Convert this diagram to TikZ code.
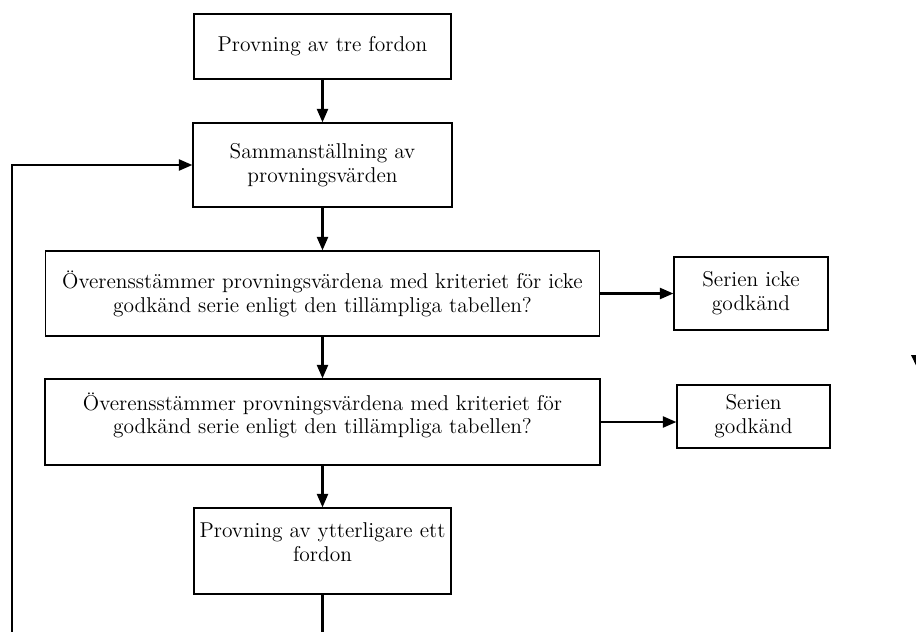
\documentclass[tikz,border=0pt]{standalone}
\usetikzlibrary{shapes.geometric, arrows.meta}
\usepackage{xcolor}

\begin{document}
\begin{tikzpicture}
    [
        node distance=2.57cm,
        place/.style={
            draw, rectangle, line width=0.7pt, inner sep=0pt,
            align=center, font=\fontsize{12.2}{13.6}\selectfont
        },
        flow/.style={
            draw, line width=1.3pt, -{Triangle[length=2.7mm, width=2.2mm]}
        }
    ]

\useasboundingbox (0,0) rectangle (18.32,-12.64);
\clip (0,0) rectangle (18.32,-12.64);

% Nodes
\node (three) at (6.45,-0.93) [
		place, minimum width=5.14cm, minimum height=1.3cm,
    ] {Provning av tre fordon};

\node (collect) [
		place, node distance=2.37cm, below of=three,
		minimum width=5.18cm, minimum height=1.68cm,
	] {Sammanställning av\\provningsvärden};

\node (check-fail) [
		place, below of=collect, minimum width=11.08cm, minimum height=1.7cm,
	] {Överensstämmer provningsvärdena med kriteriet för icke\\godkänd serie enligt den tillämpliga tabellen?};

\node (check-pass) [
		place, below of=check-fail, minimum width=11.1cm, minimum height=1.72cm,
	] {Överensstämmer provningsvärdena med kriteriet för\\godkänd serie enligt den tillämpliga tabellen?\rule[-10pt]{0pt}{0pt}};

\node (one-more) [
		place, node distance=2.58cm, below of=check-pass,
		minimum width=5.14cm, minimum height=1.72cm,
	] {Provning av ytterligare ett\\fordon\rule[-10pt]{0pt}{0pt}};

\node (fail) [
        place, node distance=8.57cm, right of=check-fail,
        minimum width=3.08cm, minimum height=1.46cm
	] {Serien icke\\godkänd};

\node (pass) [
        place, node distance=8.62cm, right of=check-pass, yshift=0.11cm,
        minimum width=3.06cm, minimum height=1.26cm
    ] {Serien\\godkänd};

\coordinate (loop) at (0.24,-13.0);

% Arrows
\draw [flow] (three) -- (collect);
\draw [flow] (collect) -- (check-fail);
\draw [flow] (check-fail) -- (check-pass);
\draw [flow] (check-pass) -- (one-more);
\draw [flow] (check-fail.east) -- (fail.west);
\draw [flow] (check-pass.east) -- (check-pass.east -| pass.west);
\draw [flow] (one-more.south) |- (loop) |- (collect.west);

% stray tip at the right edge
\fill (18.22,-7.10) -- (18.46,-7.10) -- (18.34,-7.35) -- cycle;

\end{tikzpicture}
\end{document}
